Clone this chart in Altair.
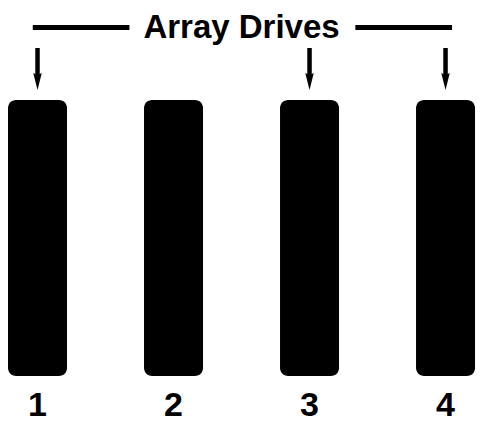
import altair as alt
import pandas as pd

# ---- data ----
drives = [1, 2, 3, 4]
drive_labels = ["1", "2", "3", "4"]
drive_top = [1, 1, 1, 1]
drive_bottom = [0, 0, 0, 0]
label_level = [-0.1449, -0.1449, -0.1449, -0.1449]

array_drives = [1, 3, 4]
arrow_top = [1.1884, 1.1884, 1.1884]
arrow_end = [1.0797, 1.0797, 1.0797]
arrow_head = [1.0670, 1.0670, 1.0670]

title_text = ["Array Drives"]
title_x = [2.5]
title_y = [1.2246]

bracket_start = [0.965, 3.337]
bracket_end = [1.676, 4.048]
bracket_y = [1.2627, 1.2627]

df_bars = pd.DataFrame({"drive": drives, "top": drive_top, "bottom": drive_bottom,
                        "label": drive_labels, "lvl": label_level})
df_arrows = pd.DataFrame({"drive": array_drives, "top": arrow_top, "end": arrow_end, "head": arrow_head})
df_title = pd.DataFrame({"x": title_x, "y": title_y, "text": title_text})
df_bracket = pd.DataFrame({"x": bracket_start, "x2": bracket_end, "y": bracket_y})

FONT = "Liberation Sans"
xs = alt.Scale(domain=[0.783, 4.224], nice=False, zero=False, padding=0)
ys = alt.Scale(domain=[-0.1739, 1.3333], nice=False, zero=False, padding=0)

X = lambda f: alt.X(f, scale=xs, axis=None)
Y = lambda f: alt.Y(f, scale=ys, axis=None)

bars = alt.Chart(df_bars).mark_bar(width=59, cornerRadius=8, color="black").encode(
    x=X("drive:Q"), y=Y("top:Q"), y2="bottom:Q",
)

labels = alt.Chart(df_bars).mark_text(
    font=FONT, fontSize=34, fontWeight="bold", align="center", baseline="alphabetic", color="black"
).encode(x=X("drive:Q"), y=Y("lvl:Q"), text="label:N")

shafts = alt.Chart(df_arrows).mark_rule(strokeWidth=4.5, color="black").encode(
    x=X("drive:Q"), y=Y("top:Q"), y2="end:Q",
)

heads = alt.Chart(df_arrows).mark_point(
    shape="M-0.5,-1L0,-0.75L0.5,-1L0,1Z", size=289, filled=True, color="black", opacity=1, strokeWidth=0
).encode(x=X("drive:Q"), y=Y("head:Q"))

brackets = alt.Chart(df_bracket).mark_rule(strokeWidth=5, color="black").encode(
    x=X("x:Q"), x2="x2:Q", y=Y("y:Q"),
)

title = alt.Chart(df_title).mark_text(
    font=FONT, fontSize=33, fontWeight="bold", align="center", baseline="alphabetic", color="black"
).encode(x=X("x:Q"), y=Y("y:Q"), text="text:N")

chart = alt.layer(bars, labels, shafts, heads, brackets, title).properties(
    width=468, height=416,
    autosize=alt.AutoSizeParams(type="none"),
    padding=0,
    background="white",
).configure_view(stroke=None)

chart.save("out.html", embed_options={"renderer": "svg", "actions": False})
